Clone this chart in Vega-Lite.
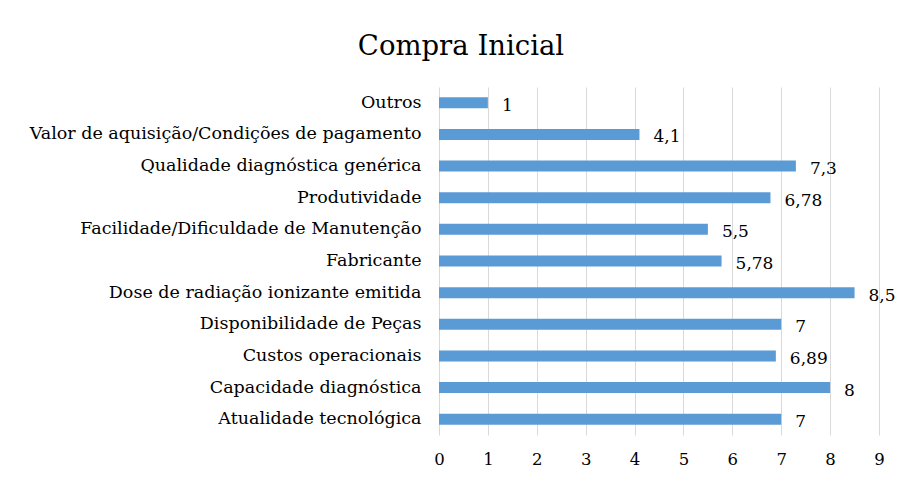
{
  "$schema": "https://vega.github.io/schema/vega-lite/v6.json",
  "width": 440,
  "height": 348,
  "autosize": "none",
  "padding": {"left": 439, "top": 87, "right": 21, "bottom": 44},
  "background": "white",
  "config": {
    "view": {"stroke": null},
    "font": "DejaVu Serif",
    "locale": {"number": {"decimal": ",", "thousands": ".", "grouping": [3], "currency": ["", ""]}}
  },
  "title": {
    "text": "Compra Inicial",
    "font": "DejaVu Serif",
    "fontSize": 27.5,
    "fontWeight": "normal",
    "color": "#000000",
    "anchor": "middle",
    "frame": "group",
    "dx": -198,
    "offset": 27
  },
  "data": {
    "values": [
      {"criterio": "Outros", "valor": 1},
      {"criterio": "Valor de aquisição/Condições de pagamento", "valor": 4.1},
      {"criterio": "Qualidade diagnóstica genérica", "valor": 7.3},
      {"criterio": "Produtividade", "valor": 6.78},
      {"criterio": "Facilidade/Dificuldade de Manutenção", "valor": 5.5},
      {"criterio": "Fabricante", "valor": 5.78},
      {"criterio": "Dose de radiação ionizante emitida", "valor": 8.5},
      {"criterio": "Disponibilidade de Peças", "valor": 7},
      {"criterio": "Custos operacionais ", "valor": 6.89},
      {"criterio": "Capacidade diagnóstica ", "valor": 8},
      {"criterio": "Atualidade tecnológica", "valor": 7}
    ]
  },
  "encoding": {
    "y": {
      "field": "criterio",
      "type": "nominal",
      "sort": null,
      "title": null,
      "axis": {
        "ticks": false,
        "domain": false,
        "labelFont": "DejaVu Serif",
        "labelFontSize": 17.5,
        "labelColor": "#000000",
        "labelPadding": 18,
        "labelLimit": 500
      }
    },
    "x": {
      "field": "valor",
      "type": "quantitative",
      "scale": {"domain": [0, 9], "nice": false},
      "title": null,
      "axis": {
        "values": [0, 1, 2, 3, 4, 5, 6, 7, 8, 9],
        "format": "d",
        "ticks": false,
        "domain": false,
        "grid": true,
        "gridColor": "#D9D9D9",
        "gridWidth": 1,
        "labelFlush": false,
        "labelFont": "DejaVu Serif",
        "labelFontSize": 16.5,
        "labelColor": "#000000",
        "labelPadding": 16
      }
    }
  },
  "layer": [
    {
      "mark": {"type": "bar", "color": "#5B9BD5", "size": 11}
    },
    {
      "mark": {"type": "text", "align": "left", "baseline": "middle", "dx": 14, "dy": 3, "font": "DejaVu Serif", "fontSize": 17, "color": "#000000"},
      "encoding": {
        "text": {"field": "valor", "type": "quantitative", "format": "~g"}
      }
    }
  ]
}
